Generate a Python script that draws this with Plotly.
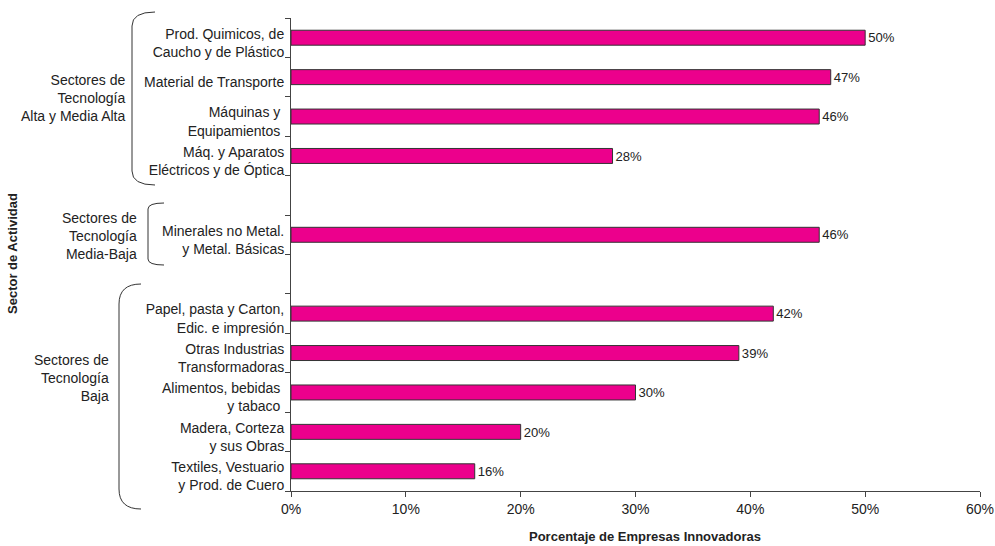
import plotly.graph_objects as go

categories = [
    "Prod. Quimicos, de<br>Caucho y de Plástico",
    "Material de Transporte",
    "Máquinas y <br>Equipamientos ",
    "Máq. y Aparatos<br>Eléctricos y de Óptica",
    " ",
    "Minerales no Metal.<br>y Metal. Básicas",
    "  ",
    "Papel, pasta y Carton,<br>Edic. e impresión",
    "Otras Industrias<br>Transformadoras",
    "Alimentos, bebidas <br>y tabaco ",
    "Madera, Corteza<br>y sus Obras",
    "Textiles, Vestuario<br>y Prod. de Cuero",
]
values = [50, 47, 46, 28, None, 46, None, 42, 39, 30, 20, 16]
group_labels = [
    "Sectores de<br>Tecnología<br>Alta y Media Alta",
    "Sectores de<br>Tecnología<br>Media-Baja",
    "Sectores de<br>Tecnología<br>Baja",
]
x_ticks = [0, 10, 20, 30, 40, 50, 60]

W, H = 995, 546
L, R, T, B = 291, 15, 18, 55
PW, PH = W - L - R, H - T - B


def px(x):
    return (x - L) / PW


def py(y):
    return 1 - (y - T) / PH


FONT = "Liberation Sans, Arial, sans-serif"
FS = 14

texts = ["" if v is None else f"{v}%" for v in values]

fig = go.Figure(
    go.Bar(
        x=values,
        y=categories,
        orientation="h",
        marker=dict(color="#EC008C", line=dict(color="#333333", width=1)),
        text=texts,
        textposition="outside",
        textfont=dict(family=FONT, size=FS, color="#222222"),
        cliponaxis=False,
        width=0.38,
        hoverinfo="skip",
    )
)

fig.update_layout(
    width=W,
    height=H,
    margin=dict(l=L, r=R, t=T, b=B, autoexpand=False),
    plot_bgcolor="white",
    paper_bgcolor="white",
    showlegend=False,
    font=dict(family=FONT, size=FS, color="#222222"),
    xaxis=dict(
        range=[0, 60],
        tickvals=x_ticks,
        ticktext=[f"{v}%" for v in x_ticks],
        ticks="outside",
        ticklen=5,
        tickcolor="#444444",
        showline=True,
        linecolor="#444444",
        showgrid=False,
        zeroline=False,
        automargin=False,
        tickfont=dict(size=FS),
    ),
    yaxis=dict(
        categoryorder="array",
        categoryarray=categories[::-1],
        ticks="outside",
        tickson="boundaries",
        ticklen=5,
        tickcolor="#444444",
        showline=True,
        linecolor="#444444",
        showgrid=False,
        automargin=False,
        tickfont=dict(size=FS),
        ticklabelstandoff=3,
        ticklabelshift=5,
        range=[-0.5, len(categories) - 0.5],
    ),
)

# axis titles
fig.add_annotation(
    x=px(12), y=py(254), xref="paper", yref="paper",
    text="<b>Sector de Actividad</b>", textangle=-90,
    showarrow=False, font=dict(size=13), xanchor="center", yanchor="middle",
)
fig.add_annotation(
    x=px(645), y=py(536), xref="paper", yref="paper",
    text="<b>Porcentaje de Empresas Innovadoras</b>",
    showarrow=False, font=dict(size=13), xanchor="center", yanchor="middle",
)

# group labels
group_pos = [(127, 98), (139, 236), (111, 378)]
for txt, (gx, gy) in zip(group_labels, group_pos):
    fig.add_annotation(
        x=px(gx), y=py(gy), xref="paper", yref="paper", text=txt,
        showarrow=False, align="right", xanchor="right", yanchor="middle",
        font=dict(size=FS),
    )


def bracket(xv, xe, y0, y1, r):
    p = (
        f"M {px(xe)} {py(y0)} Q {px(xv)} {py(y0)} {px(xv)} {py(y0 + r)} "
        f"L {px(xv)} {py(y1 - r)} Q {px(xv)} {py(y1)} {px(xe)} {py(y1)}"
    )
    return dict(type="path", path=p, xref="paper", yref="paper",
                line=dict(color="#333333", width=1))


fig.update_layout(shapes=[
    bracket(132, 155, 12, 185, 14),
    bracket(148, 164, 203, 265, 6),
    bracket(119, 141, 284, 509, 20),
])

fig.write_html(
    "out.html",
    config={"displayModeBar": False, "staticPlot": True},
    post_script="document.body.style.margin='0';document.body.style.overflow='hidden';",
)
